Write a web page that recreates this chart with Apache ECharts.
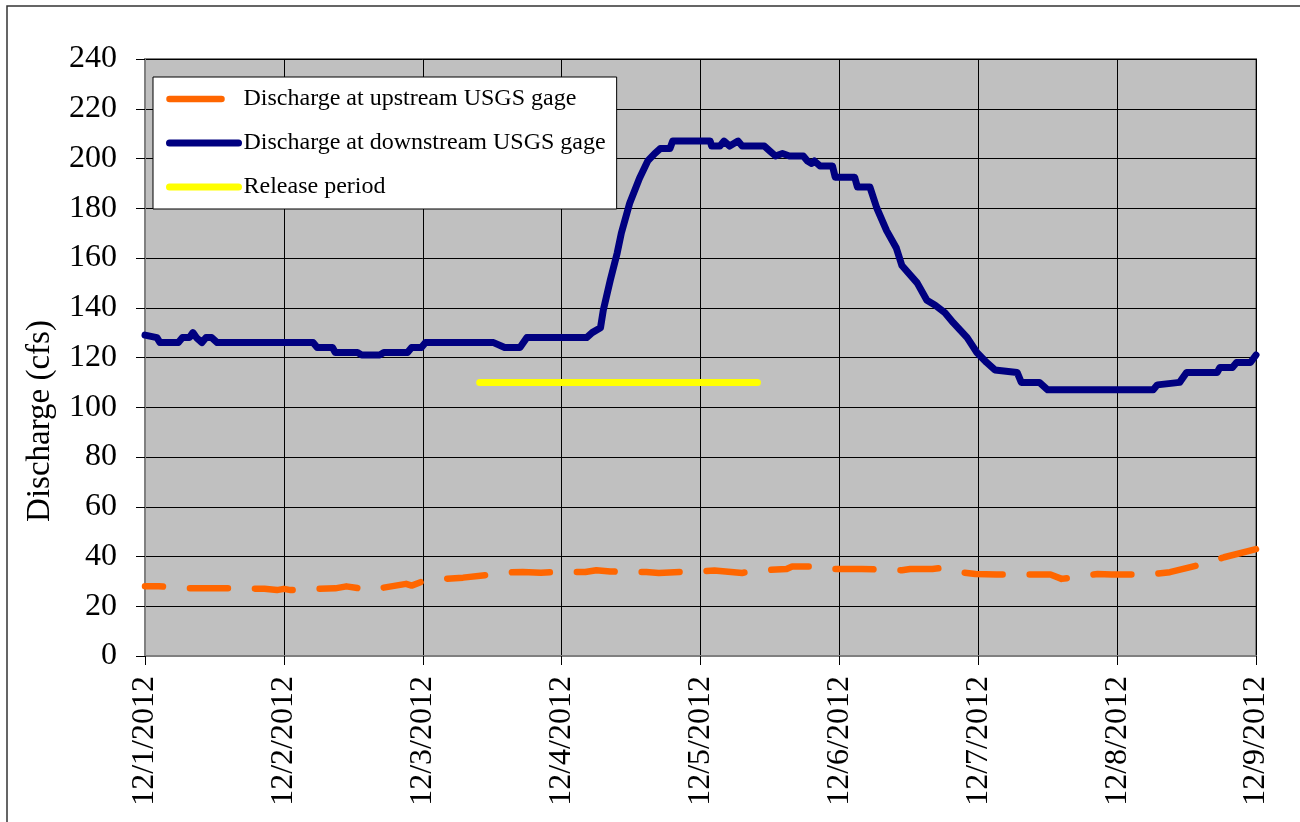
<!DOCTYPE html>
<html><head><meta charset="utf-8">
<script src="https://cdn.jsdelivr.net/npm/echarts@6/dist/echarts.min.js"></script>
<style>html,body{margin:0;padding:0;background:#fff}#c{width:1300px;height:822px}</style>
</head><body><div id="c"></div>
<script>
// Tick labels (x axis: days since 12/1/2012)
const xTickLabels = ['12/1/2012','12/2/2012','12/3/2012','12/4/2012','12/5/2012','12/6/2012','12/7/2012','12/8/2012','12/9/2012'];
const yMin = 0, yMax = 240, yStep = 20;

// Upstream gage (orange)
const upstreamDays = [0.00,0.10,0.21,0.32,0.50,0.68,0.86,0.95,1.00,1.05,1.20,1.37,1.45,1.55,1.65,1.69,1.88,1.92,2.00,2.15,2.29,2.45,2.59,2.72,2.85,3.00,3.17,3.25,3.35,3.45,3.61,3.70,3.85,3.93,4.10,4.30,4.42,4.62,4.66,4.85,4.97,5.16,5.45,5.51,5.67,5.75,5.90,5.98,6.13,6.36,6.52,6.60,6.86,6.96,7.24,7.38,7.64,7.77,8.00];
const upstreamFlow = [28,28,27.7,27.2,27.2,27.2,27,26.5,27,26.5,27,27.2,28,27.2,28,27.2,29,28.3,30,31,31.5,32.5,33.5,33.8,33.5,33.8,33.8,34.5,34,33.8,33.8,33.4,33.8,33.8,34.4,33.4,34.4,35,36,36,35,35,34.5,35,35,35.5,33.5,33,32.8,32.8,32.8,31,33,32.8,32.8,33.7,37.3,39.7,43];

// Downstream gage (navy)
const downstreamDays = [0.00,0.086,0.108,0.24,0.27,0.32,0.345,0.37,0.41,0.44,0.48,0.52,1.21,1.24,1.35,1.37,1.53,1.56,1.69,1.72,1.89,1.92,1.99,2.02,2.51,2.59,2.70,2.75,3.18,3.22,3.28,3.30,3.35,3.40,3.43,3.49,3.56,3.62,3.67,3.71,3.78,3.80,4.07,4.08,4.14,4.17,4.21,4.27,4.30,4.46,4.50,4.54,4.59,4.64,4.74,4.77,4.80,4.82,4.86,4.95,4.97,5.11,5.13,5.22,5.27,5.34,5.41,5.45,5.56,5.63,5.69,5.76,5.82,5.87,5.92,5.99,6.06,6.12,6.28,6.31,6.44,6.50,7.26,7.29,7.45,7.50,7.72,7.74,7.83,7.86,7.96,8.00];
const downstreamFlow = [129,128,126,126,128,128,130,128,126,128,128,126,126,124,124,122,122,121,121,122,122,124,124,126,126,124,124,128,128,130,132,139,151,162,170,182,192,199,202,204,204,207,207,205,205,207,205,207,205,205,203,201,202,201,201,199,198,199,197,197,192.5,192.5,188.5,188.5,180,171,164,157,150,143,141,138,134,131,128,122,118,115,114,110,110,107,107,109,110,114,114,116,116,118,118,121];

// Release period (yellow)
const releaseDays = [2.41, 4.41];
const releaseFlow = [110, 110];

const zip = (a, b) => a.map((d, i) => [d, b[i]]);
const font = '"Liberation Serif", "Times New Roman", serif';
const chart = echarts.init(document.getElementById('c'), null, {renderer: 'canvas'});
const hiddenSymbol = {color: 'rgba(0,0,0,0)', borderWidth: 0, borderColor: 'rgba(0,0,0,0)', opacity: 0};

chart.setOption({
  animation: false,
  backgroundColor: '#fff',
  grid: {left: 145, right: 44, top: 59, bottom: 166, show: true, backgroundColor: '#C0C0C0',
         borderColor: '#808080', borderWidth: 2, containLabel: false, outerBoundsMode: 'none'},
  xAxis: {
    type: 'value', min: 0, max: xTickLabels.length - 1, interval: 1,
    axisLine: {show: true, onZero: false, lineStyle: {color: '#808080', width: 2}},
    axisTick: {show: true, length: 9, lineStyle: {color: '#000', width: 1}},
    axisLabel: {rotate: 90, margin: 20, fontSize: 32, fontFamily: font, color: '#000',
                showMinLabel: true, showMaxLabel: true, formatter: v => xTickLabels[Math.round(v)]},
    splitLine: {show: true, lineStyle: {color: '#000', width: 1}}
  },
  yAxis: {
    type: 'value', min: yMin, max: yMax, interval: yStep,
    axisLine: {show: true, lineStyle: {color: '#808080', width: 2}},
    axisTick: {show: true, length: 9, lineStyle: {color: '#000', width: 1}},
    axisLabel: {margin: 28, fontSize: 32, fontFamily: font, color: '#000'},
    splitLine: {show: true, lineStyle: {color: '#000', width: 1}}
  },
  legend: {
    left: 153, top: 77, orient: 'vertical',
    backgroundColor: '#fff', borderColor: '#000', borderWidth: 1, borderRadius: 0,
    padding: [10, 11, 10, 13], itemGap: 20, itemWidth: 69, itemHeight: 14,
    textStyle: {fontSize: 24, fontFamily: font, color: '#000'},
    itemStyle: hiddenSymbol,
    data: [
      {name: 'Discharge at upstream USGS gage', itemStyle: hiddenSymbol,
       lineStyle: {width: 6.5, type: [52, 40], dashOffset: 0, cap: 'round'}},
      {name: 'Discharge at downstream USGS gage', itemStyle: hiddenSymbol,
       lineStyle: {width: 7, cap: 'round'}},
      {name: 'Release period', itemStyle: hiddenSymbol,
       lineStyle: {width: 7, cap: 'round'}}
    ]
  },
  graphic: [
    {type: 'rect', silent: true, z: -10, shape: {x: 7, y: 6, width: 1400, height: 900},
     style: {fill: 'none', stroke: '#333', lineWidth: 1.5}},
    {type: 'text', silent: true, x: 40, y: 421, rotation: Math.PI / 2,
     style: {text: 'Discharge (cfs)', fontSize: 33, fontFamily: font, fill: '#000',
             align: 'center', verticalAlign: 'middle'}}
  ],
  series: [
    {name: 'Discharge at upstream USGS gage', type: 'line', symbol: 'none', z: 3,
     data: zip(upstreamDays, upstreamFlow), itemStyle: {color: '#FF6600'},
     lineStyle: {color: '#FF6600', width: 6.5, type: [38, 27], dashOffset: 20, cap: 'round', join: 'round'}},
    {name: 'Discharge at downstream USGS gage', type: 'line', symbol: 'none', z: 4,
     data: zip(downstreamDays, downstreamFlow), itemStyle: {color: '#000080'},
     lineStyle: {color: '#000080', width: 7, cap: 'round', join: 'round'}},
    {name: 'Release period', type: 'line', symbol: 'none', z: 3,
     data: zip(releaseDays, releaseFlow), itemStyle: {color: '#FFFF00'},
     lineStyle: {color: '#FFFF00', width: 7, cap: 'round', join: 'round'}}
  ]
});
</script>
</body></html>
